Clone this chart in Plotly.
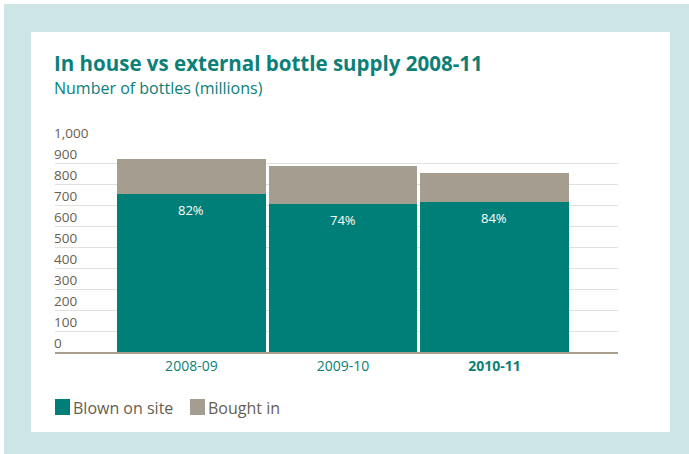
import plotly.graph_objects as go

# Bottle supply, millions of bottles
years = ["2008-09", "2009-10", "2010-11"]
blown_on_site = [754, 705, 716]
bought_in = [165, 181, 136]
share_labels = ["82%", "74%", "84%"]
series_names = ["Blown on site", "Bought in"]
y_ticks = [0, 100, 200, 300, 400, 500, 600, 700, 800, 900, 1000]
y_tick_text = ["0", "100", "200", "300", "400", "500", "600", "700", "800", "900", "1,000"]
tick_text_x = ["2008-09", "2009-10", "<b>2010-11</b>"]

TEAL = "#007e78"
GREY = "#a59d90"
TEXT_BROWN = "#675e4f"
TITLE_TEAL = "#0b8078"
FRAME = "#cde6e5"
FONT = "'Open Sans', Lato, sans-serif"

W, H = 689, 454
PL, PR, PT, PB = 55, 618, 142, 352


def px(x):
    return (x - PL) / (PR - PL)


def py(y):
    return (PB - y) / (PB - PT)


fig = go.Figure()
fig.add_trace(go.Bar(x=years, y=blown_on_site, name=series_names[0],
                     marker=dict(color=TEAL, line=dict(width=0)), showlegend=False))
fig.add_trace(go.Bar(x=years, y=bought_in, name=series_names[1],
                     marker=dict(color=GREY, line=dict(width=0)), showlegend=False))

annotations = []
# percentage labels just inside the top of the teal segment
for yr, val, lab in zip(years, blown_on_site, share_labels):
    annotations.append(dict(x=yr, y=val, xref="x", yref="y", text=lab, showarrow=False,
                            yanchor="top", yshift=-5,
                            font=dict(family=FONT, size=13, color="white")))

# y tick labels sit just above their gridlines, left-aligned with the plot edge
for v, t in zip(y_ticks, y_tick_text):
    annotations.append(dict(x=0, y=v, xref="paper", yref="y", text=t, showarrow=False,
                            xanchor="left", yanchor="middle", xshift=-3, yshift=9,
                            font=dict(family=FONT, size=13.5, color=TEXT_BROWN)))

# titles
annotations.append(dict(x=px(52), y=py(63), xref="paper", yref="paper", xanchor="left",
                        yanchor="middle", showarrow=False,
                        text="<b>In house vs external bottle supply 2008-11</b>",
                        font=dict(family=FONT, size=20.5, color=TITLE_TEAL)))
annotations.append(dict(x=px(52), y=py(88), xref="paper", yref="paper", xanchor="left",
                        yanchor="middle", showarrow=False,
                        text="Number of bottles (millions)",
                        font=dict(family=FONT, size=16, color=TITLE_TEAL)))

shapes = [
    dict(type="rect", xref="paper", yref="paper", x0=px(4), x1=px(W + 5), y0=py(4), y1=py(H + 5),
         fillcolor=FRAME, line=dict(width=0), layer="below"),
    dict(type="rect", xref="paper", yref="paper", x0=px(31), x1=px(670), y0=py(32), y1=py(432),
         fillcolor="white", line=dict(width=0), layer="below"),
]

# legend drawn as swatches plus labels
legend_items = [(series_names[0], TEAL, 55, 71), (series_names[1], GREY, 190, 206)]
for name, col, sx, tx in legend_items:
    shapes.append(dict(type="rect", xref="paper", yref="paper", x0=px(sx), x1=px(sx + 15),
                       y0=py(399), y1=py(415), fillcolor=col, line=dict(width=0)))
    annotations.append(dict(x=px(tx), y=py(408), xref="paper", yref="paper", xanchor="left",
                            yanchor="middle", showarrow=False, text=name,
                            font=dict(family=FONT, size=16, color=TEXT_BROWN)))

fig.update_layout(
    width=W, height=H,
    margin=dict(l=PL, r=W - PR, t=PT, b=H - PB, pad=0),
    paper_bgcolor="white", plot_bgcolor="rgba(0,0,0,0)",
    barmode="stack", bargap=0.02,
    showlegend=False,
    annotations=annotations, shapes=shapes,
    font=dict(family=FONT),
)
fig.update_xaxes(type="category", range=[-0.9, 2.815], tickvals=years, ticktext=tick_text_x,
                 showgrid=False, showline=True, linecolor="#a89f8f", linewidth=1.5,
                 ticks="", tickfont=dict(family=FONT, size=14, color=TITLE_TEAL))
fig.update_yaxes(range=[0, 1000], tickvals=y_ticks, showticklabels=False,
                 showgrid=True, gridcolor="#e2e0dc", gridwidth=1, zeroline=False)

fig.write_html("out.html")
